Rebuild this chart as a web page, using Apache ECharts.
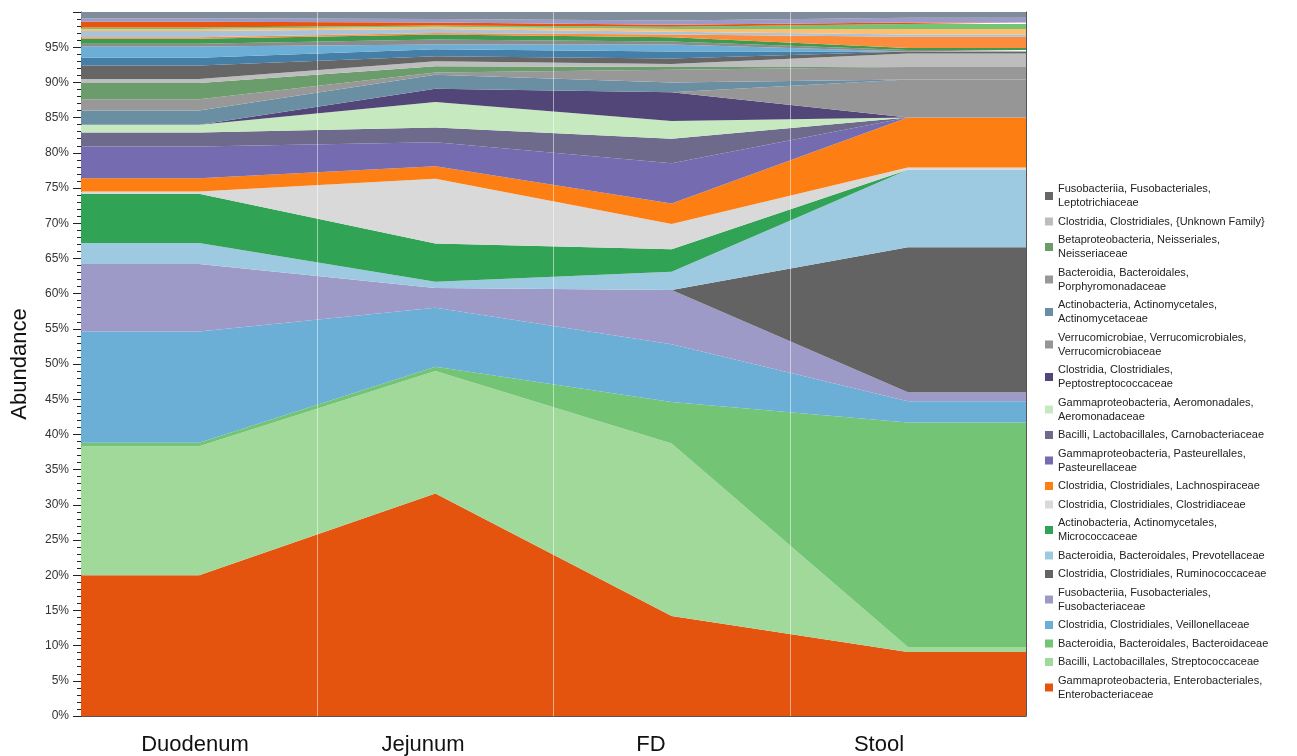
<!DOCTYPE html>
<html>
<head>
<meta charset="utf-8">
<title>Abundance by site</title>
<script src="https://cdn.jsdelivr.net/npm/echarts@6/dist/echarts.min.js"></script>
<style>
  html, body { margin: 0; padding: 0; background: #fff; }
  #chart { width: 1297px; height: 756px; }
</style>
</head>
<body>
<div id="chart"></div>
<script>
// sampling sites (x categories)
const sites = ['Duodenum', 'Jejunum', 'FD', 'Stool'];

// taxa, bottom of the stack first; '\n' marks where the legend wraps
const taxa = [
  'Gammaproteobacteria, Enterobacteriales,\nEnterobacteriaceae',
  'Bacilli, Lactobacillales, Streptococcaceae',
  'Bacteroidia, Bacteroidales, Bacteroidaceae',
  'Clostridia, Clostridiales, Veillonellaceae',
  'Fusobacteriia, Fusobacteriales,\nFusobacteriaceae',
  'Clostridia, Clostridiales, Ruminococcaceae',
  'Bacteroidia, Bacteroidales, Prevotellaceae',
  'Actinobacteria, Actinomycetales,\nMicrococcaceae',
  'Clostridia, Clostridiales, Clostridiaceae',
  'Clostridia, Clostridiales, Lachnospiraceae',
  'Gammaproteobacteria, Pasteurellales,\nPasteurellaceae',
  'Bacilli, Lactobacillales, Carnobacteriaceae',
  'Gammaproteobacteria, Aeromonadales,\nAeromonadaceae',
  'Clostridia, Clostridiales,\nPeptostreptococcaceae',
  'Verrucomicrobiae, Verrucomicrobiales,\nVerrucomicrobiaceae',
  'Actinobacteria, Actinomycetales,\nActinomycetaceae',
  'Bacteroidia, Bacteroidales,\nPorphyromonadaceae',
  'Betaproteobacteria, Neisseriales,\nNeisseriaceae',
  'Clostridia, Clostridiales, {Unknown Family}',
  'Fusobacteriia, Fusobacteriales,\nLeptotrichiaceae'
];

// minor taxa stacked above, not listed in the legend
const minorTaxa = ['minor 1', 'minor 2', 'minor 3', 'minor 4', 'minor 5', 'minor 6',
  'minor 7', 'minor 8', 'minor 9', 'minor 10', 'minor 11'];

// abundance (%) per taxon at Duodenum, Jejunum, FD, Stool
const abundance = [
  [20.0, 31.6, 14.2, 9.1],
  [18.3, 17.4, 24.5, 0.7],
  [0.5, 0.6, 5.9, 31.9],
  [15.8, 8.4, 8.2, 3.0],
  [9.6, 2.8, 7.7, 1.3],
  [0, 0, 0, 20.6],
  [3.0, 0.9, 2.6, 11.0],
  [7.0, 5.4, 3.2, 0],
  [0.3, 9.2, 3.6, 0.3],
  [1.9, 1.8, 2.9, 7.1],
  [4.5, 3.4, 5.7, 0],
  [2.0, 2.1, 3.5, 0],
  [1.1, 3.6, 2.5, 0],
  [0, 1.9, 4.1, 0],
  [0, 0, 0, 5.4],
  [2.0, 2.0, 1.4, 0],
  [1.6, 0.3, 1.8, 1.8],
  [2.3, 0.9, 0.4, 0],
  [0.6, 0.7, 0.4, 1.9],
  [1.9, 0.7, 0.8, 0.3]
];

const minorAbundance = [
  [1.1, 1.0, 1.0, 0],
  [1.6, 0.7, 1.0, 0],
  [0.4, 0.7, 0.4, 0.2],
  [0.7, 0.7, 0.6, 0.3],
  [0.2, 0.2, 0.4, 1.6],
  [0.9, 0.6, 0.4, 0.3],
  [0.3, 0.3, 0.4, 0.8],
  [0.2, 0.2, 0.3, 0.7],
  [0.8, 0.4, 0.3, 0.2],
  [0.5, 0.5, 0.6, 0.7],
  [0.9, 1.0, 1.2, 0.8]
];

const taxaColors = [
  '#e5540e', '#a1d99b', '#74c476', '#6baed6', '#9e9ac8', '#636363', '#9ecae1',
  '#31a354', '#d9d9d9', '#fd7f14', '#756bb1', '#6e6a8c', '#c7e9c0', '#524678',
  '#969696', '#6a8fa3', '#989898', '#6b9c6b', '#bdbdbd', '#666666'
];
const minorColors = [
  '#457ea6', '#6baed6', '#8c8c8c', '#3e9a4f', '#fd8d3c', '#a9c3da',
  '#fdbf6f', '#74c476', '#e6550d', '#9e9ac8', '#7f8c99'
];

// half-column steps across the plot; each site sits mid-column, flat to the edges
const steps = ['0', '1', '2', '3', '4', '5', '6', '7', '8'];
const siteStep = [1, 3, 5, 7];
function toPoints(vals) {
  const pts = [[0, vals[0]]];
  vals.forEach((v, i) => pts.push([siteStep[i], v]));
  pts.push([8, vals[vals.length - 1]]);
  return pts;
}

function areaSeries(name, vals, color) {
  return {
    name: name,
    type: 'line',
    stack: 'total',
    xAxisIndex: 0,
    yAxisIndex: 0,
    symbol: 'none',
    lineStyle: { width: 0 },
    areaStyle: { color: color, opacity: 1 },
    itemStyle: { color: color },
    emphasis: { disabled: true },
    data: toPoints(vals)
  };
}

const series = [];
taxa.forEach((t, i) => series.push(areaSeries(t, abundance[i], taxaColors[i])));
minorTaxa.forEach((t, i) => series.push(areaSeries(t, minorAbundance[i], minorColors[i])));

// faint white column separators
const last = series[series.length - 1];
last.z = 3;
last.markLine = {
  silent: true,
  symbol: 'none',
  label: { show: false },
  lineStyle: { color: 'rgba(255,255,255,0.5)', width: 1, type: 'solid' },
  data: [{ xAxis: '2' }, { xAxis: '4' }, { xAxis: '6' }]
};

const chart = echarts.init(document.getElementById('chart'), null, { renderer: 'canvas' });

const option = {
  animation: false,
  textStyle: { fontFamily: 'Liberation Sans, Arial, sans-serif' },
  grid: [
    { left: 81, top: 12, right: 271, bottom: 40, outerBoundsMode: 'none' },
    { left: 81, width: 912, top: 715, height: 1, outerBoundsMode: 'none' }
  ],
  legend: {
    orient: 'vertical',
    left: 1040,
    top: 177,
    itemWidth: 8,
    itemHeight: 8,
    itemGap: 4.5,
    icon: 'rect',
    selectedMode: false,
    data: taxa.slice().reverse(),
    textStyle: { fontSize: 11, lineHeight: 14, color: '#222' }
  },
  xAxis: [
    {
      type: 'category',
      gridIndex: 0,
      data: steps,
      boundaryGap: false,
      axisLine: { show: true, lineStyle: { color: '#999' } },
      axisTick: { show: false },
      axisLabel: { show: false },
      splitLine: { show: false }
    },
    {
      type: 'value',
      gridIndex: 0,
      position: 'top',
      min: 0,
      max: 4,
      axisLine: { show: true, lineStyle: { color: '#555' } },
      axisTick: { show: false },
      axisLabel: { show: false },
      splitLine: { show: false }
    },
    {
      type: 'category',
      gridIndex: 1,
      data: sites,
      axisLine: { show: false },
      axisTick: { show: false },
      axisLabel: { fontSize: 22, color: '#111', margin: 18 }
    }
  ],
  yAxis: [
    {
      type: 'value',
      gridIndex: 0,
      min: 0,
      max: 100,
      interval: 5,
      name: 'Abundance',
      nameLocation: 'middle',
      nameGap: 50,
      nameTextStyle: { fontSize: 22, color: '#111' },
      axisLine: { show: true, lineStyle: { color: '#222', width: 1 } },
      axisTick: { show: true, length: 8, lineStyle: { color: '#222' } },
      minorTick: { show: true, splitNumber: 5, length: 4, lineStyle: { color: '#222' } },
      axisLabel: {
        fontSize: 12,
        color: '#333',
        margin: 12,
        formatter: v => (v >= 100 ? '' : v + '%')
      },
      splitLine: { show: false }
    },
    {
      type: 'value',
      gridIndex: 0,
      position: 'right',
      min: 0,
      max: 100,
      axisLine: { show: true, lineStyle: { color: '#555' } },
      axisTick: { show: false },
      axisLabel: { show: false },
      splitLine: { show: false }
    },
    {
      type: 'value',
      gridIndex: 1,
      show: false
    }
  ],
  series: series
};

chart.setOption(option);
</script>
</body>
</html>
